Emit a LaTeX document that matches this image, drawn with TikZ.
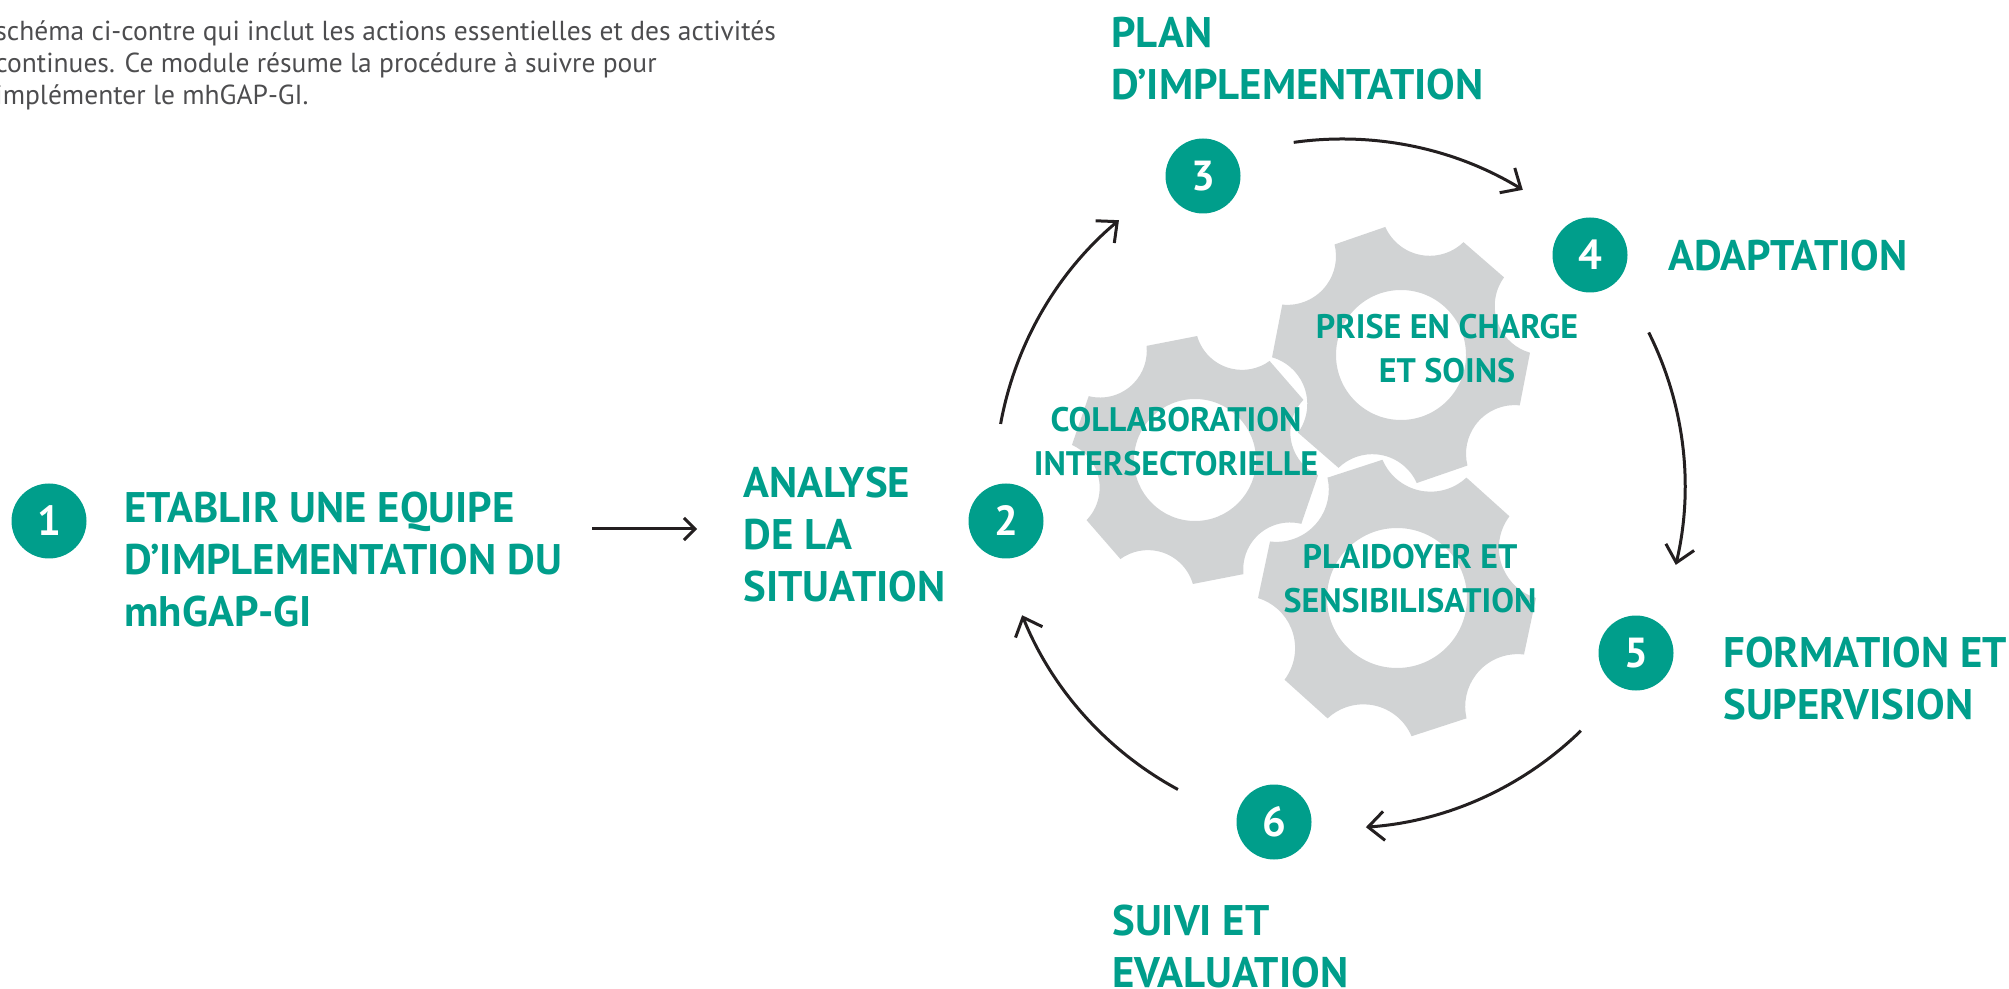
\documentclass[tikz,border=0pt]{standalone}
\usepackage{fontspec}
\setmainfont{PT Sans}
\usepackage{tikz}
\usetikzlibrary{arrows.meta,calc}
\definecolor{mhteal}{RGB}{0,158,139}
\definecolor{coggray}{RGB}{209,211,212}
\definecolor{bodygray}{RGB}{77,77,79}
\definecolor{arrowblack}{RGB}{35,31,32}
\tikzstyle{num}=[circle,fill=mhteal,text=white,minimum size=37.5pt,inner sep=0pt,font=\bfseries\fontsize{21}{26}\selectfont]
\tikzstyle{head}=[anchor=north west,inner sep=0pt,align=left,text=mhteal,font=\bfseries\fontsize{21.4}{26}\selectfont]
\tikzstyle{cogtext}=[anchor=north,inner sep=0pt,align=center,text=mhteal,font=\bfseries\fontsize{17}{22}\selectfont]
\tikzstyle{flow}=[line width=1.5pt,draw=arrowblack,-{Straight Barb[length=8pt,width=14.5pt]}]

% cog: centre x, centre y, outer radius, hole radius, angle of first tooth
\newcommand{\drawcog}[5]{%
  \begin{scope}[shift={(#1,#2)}]
    \fill[coggray,even odd rule] (#5-12:#3)
      \foreach \k [evaluate=\k as \t using #5+60*\k] in {0,...,5}{
        -- (\t+12:#3) arc[start angle=\t+265,end angle=\t+155,radius=0.377*#3]
      } -- cycle
      (0,0) circle[radius=#4];
  \end{scope}}

\begin{document}
\begin{tikzpicture}[x=0.5pt,y=-0.5pt]
\useasboundingbox (0,0) rectangle (2009,989);

\node[anchor=base west,inner sep=0pt,align=left,text=bodygray,font=\fontsize{13.75}{16}\selectfont] (intro) at (-5,105)
  {schéma ci-contre qui inclut les actions essentielles et des activités\\
   continues. Ce module résume la procédure à suivre pour\\
   implémenter le mhGAP-GI.};

\drawcog{1195}{460}{124}{61}{19}
\drawcog{1401}{355}{129}{65}{11}
\drawcog{1397}{598}{139}{70}{12}

\node[cogtext] (collab) at (1176,407) {COLLABORATION\\INTERSECTORIELLE};
\node[cogtext] (soins) at (1447,314) {PRISE EN CHARGE\\ET SOINS};
\node[cogtext] (plaid) at (1410,544) {PLAIDOYER ET\\SENSIBILISATION};

\node[num] (n1) at (49,521) {1};
\node[num] (n2) at (1006,521) {2};
\node[num] (n3) at (1203,176) {3};
\node[num] (n4) at (1590,255) {4};
\node[num] (n5) at (1636,653) {5};
\node[num] (n6) at (1274,822) {6};

\node[head] (equipe) at (124,492) {ETABLIR UNE EQUIPE\\D’IMPLEMENTATION DU\\mhGAP-GI};
\node[head] (analyse) at (743,467) {ANALYSE\\DE LA\\SITUATION};
\node[head] (plan) at (1111,17) {PLAN\\D’IMPLEMENTATION};
\node[head] (adapt) at (1668,240) {ADAPTATION};
\node[head] (forma) at (1723,637) {FORMATION ET\\SUPERVISION};
\node[head] (suivi) at (1112,905) {SUIVI ET\\EVALUATION};

\coordinate (cyc) at (1342,486);
\coordinate (a12) at (592,529);
\coordinate (b12) at (697,529);
\coordinate (a23) at ($(cyc)+(-169.7:347)$);
\coordinate (a34) at ($(cyc)+(-98:347)$);
\coordinate (a45) at ($(cyc)+(-26.6:343)$);
\coordinate (a56) at ($(cyc)+(45.7:342)$);
\coordinate (a62) at ($(cyc)+(118.4:345)$);

\draw[flow,-{Straight Barb[length=5.5pt,width=11pt]}] (a12) -- (b12);
\draw[flow] (a23) arc[start angle=-169.7,end angle=-130,radius=347];
\draw[flow] (a34) arc[start angle=-98,end angle=-58.6,radius=347];
\draw[flow] (a45) arc[start angle=-26.6,end angle=13.3,radius=343];
\draw[flow] (a56) arc[start angle=45.7,end angle=86,radius=342];
\draw[flow] (a62) arc[start angle=118.4,end angle=158,radius=345];
\end{tikzpicture}
\end{document}
